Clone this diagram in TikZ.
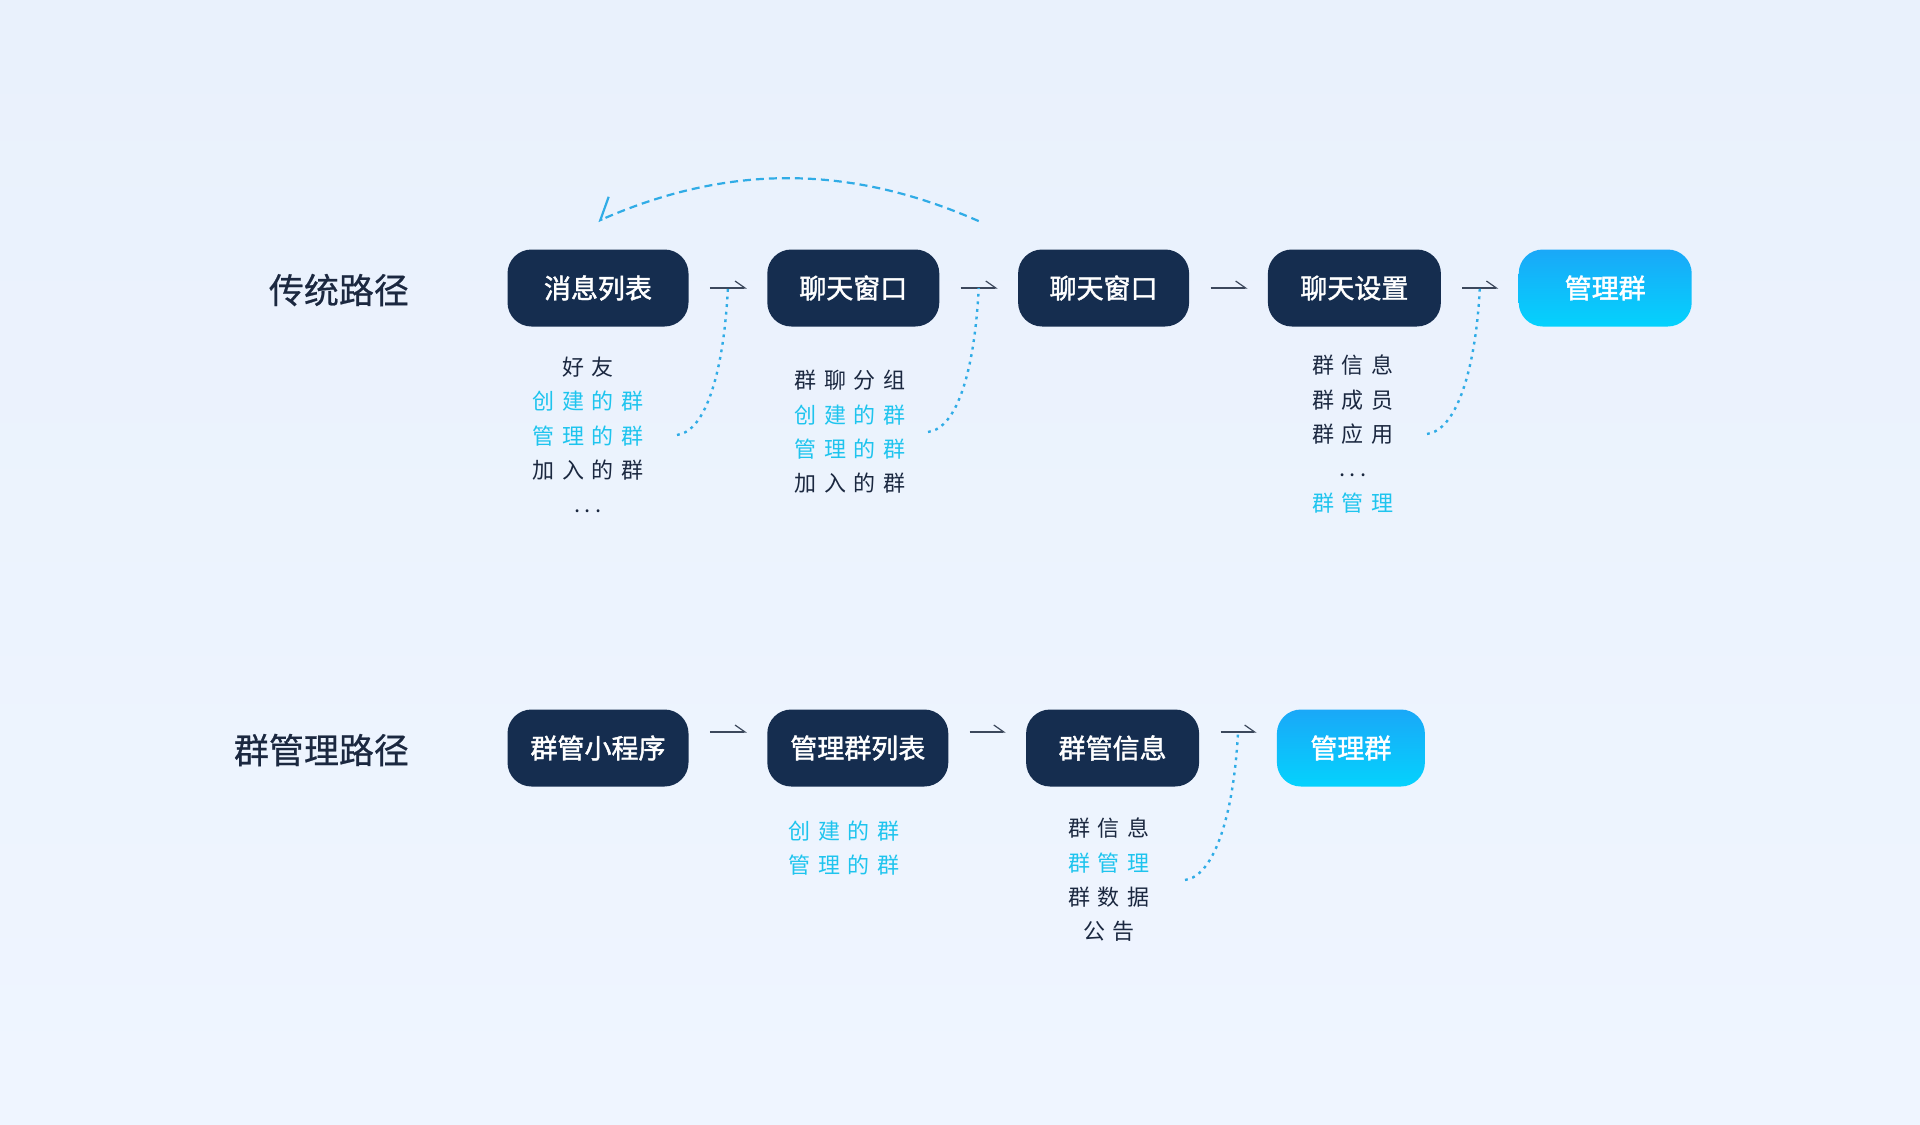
\documentclass[tikz,border=0pt]{standalone}
\usepackage{fontspec}
\setmainfont{Noto Sans CJK SC}
\newfontfamily\listfont[WordSpace=1.5]{Noto Sans CJK SC}
\newfontfamily\boxfont[FakeBold=1.6]{Noto Sans CJK SC}
\newfontfamily\labelfont[FakeBold=0.6]{Noto Sans CJK SC}
\usepackage{tikz}
\usetikzlibrary{arrows.meta,positioning}
\usepackage{xcolor}
\definecolor{gpnavy}{RGB}{21,45,79}
\definecolor{gptext}{RGB}{27,40,64}
\definecolor{gpcyan}{RGB}{30,196,238}
\definecolor{gpdash}{RGB}{48,172,230}
\definecolor{gpgrey}{RGB}{60,72,92}
\definecolor{gpbgtop}{RGB}{233,241,252}
\definecolor{gpbgbot}{RGB}{239,245,255}
\definecolor{gpskytop}{RGB}{26,168,248}
\definecolor{gpskybot}{RGB}{4,210,253}
\newcommand{\moredots}{.\kern2.2pt.\kern2.2pt.}
\tikzstyle{arrow} = [line width=0.6pt, color=gpgrey, -{Straight Barb[harpoon,length=5pt,width=7pt]}, shorten <=10.5pt, shorten >=10pt]
\tikzstyle{stepbox} = [rectangle, rounded corners=12pt, minimum width=86pt, minimum height=38.5pt, text centered, fill=gpnavy, text=white, font=\boxfont\fontsize{13.5}{16}\selectfont]
\tikzstyle{goalbox} = [stepbox, fill=none, top color=gpskytop, bottom color=gpskybot]
\tikzstyle{pathlabel} = [anchor=east, text=gptext, font=\labelfont\fontsize{17.5}{20}\selectfont]
\tikzstyle{itemlist} = [align=center, text=gptext, font=\listfont\fontsize{11}{17.2}\selectfont]
\tikzstyle{dotlink} = [color=gpdash, line width=1.2pt, dash pattern=on 1.4pt off 2.4pt]
\tikzstyle{backlink} = [color=gpdash, line width=1.1pt, dash pattern=on 4pt off 2.5pt, -{Straight Barb[harpoon,swap,length=8.5pt,width=18pt]}]

\begin{document}
\begin{tikzpicture}
% Background
\shade[top color=gpbgtop, bottom color=gpbgbot] (0,0) rectangle (960pt,-562pt);
\useasboundingbox (0,0) rectangle (960pt,-562pt);

% Traditional path
\node[pathlabel] (lab1) at (208pt,-145pt) {传统路径};
\node[stepbox, minimum width=90.5pt] (msg) at (299pt,-144pt) {消息列表};
\node[stepbox, right=39pt of msg] (chat) {聊天窗口};
\node[stepbox, right=39pt of chat, minimum width=85.5pt] (chat2) {聊天窗口};
\node[stepbox, right=39pt of chat2, minimum width=86.5pt] (set) {聊天设置};
\node[goalbox, right=38.5pt of set, minimum width=86.5pt] (goal1) {管理群};

\draw[arrow] (msg) -- coordinate (m1) (chat);
\draw[arrow] (chat) -- coordinate (m2) (chat2);
\draw[arrow] (chat2) -- coordinate (m3) (set);
\draw[arrow] (set) -- coordinate (m4) (goal1);

% Items below
\node[itemlist] (l1) at (294pt,-217.5pt) {好 友\\\textcolor{gpcyan}{创 建 的 群}\\\textcolor{gpcyan}{管 理 的 群}\\加 入 的 群\\\moredots};
\node[itemlist] (l2) at (425pt,-216pt) {群 聊 分 组\\\textcolor{gpcyan}{创 建 的 群}\\\textcolor{gpcyan}{管 理 的 群}\\加 入 的 群};
\node[itemlist] (l3) at (676.5pt,-217pt) {群 信 息\\群 成 员\\群 应 用\\\moredots\\\textcolor{gpcyan}{群 管 理}};

\draw[dotlink] ([xshift=44.5pt]l1.center) .. controls +(15pt,2pt) and +(-2pt,-40pt) .. (m1);
\draw[dotlink] ([xshift=39pt]l2.center) .. controls +(15pt,2pt) and +(-2pt,-40pt) .. (m2);
\draw[dotlink] ([xshift=37pt]l3.center) .. controls +(15pt,2pt) and +(-2pt,-40pt) .. (m4);

% Back to the list
\coordinate[yshift=14pt] (back) at (m2 |- chat.north);
\draw[backlink] (back) .. controls +(-65pt,28.5pt) and +(65pt,28.5pt) .. ([yshift=14pt]msg.north);

% Group admin path
\node[pathlabel] (lab2) at (208pt,-375pt) {群管理路径};
\node[stepbox, minimum width=90.5pt] (mini) at (299pt,-374pt) {群管小程序};
\node[stepbox, right=39pt of mini, minimum width=90.5pt] (glist) {管理群列表};
\node[stepbox, right=38.5pt of glist, minimum width=86.5pt] (ginfo) {群管信息};
\node[goalbox, right=38.5pt of ginfo, minimum width=74pt] (goal2) {管理群};

\draw[arrow] ([yshift=8pt]mini.east) -- coordinate (n1) ([yshift=8pt]glist.west);
\draw[arrow] ([yshift=8pt]glist.east) -- coordinate (n2) ([yshift=8pt]ginfo.west);
\draw[arrow] ([yshift=8pt]ginfo.east) -- coordinate (n3) ([yshift=8pt]goal2.west);

\node[itemlist] (l4) at (422pt,-424pt) {\textcolor{gpcyan}{创 建 的 群}\\\textcolor{gpcyan}{管 理 的 群}};
\node[itemlist] (l5) at (554.5pt,-440pt) {群 信 息\\\textcolor{gpcyan}{群 管 理}\\群 数 据\\公 告};

\draw[dotlink] ([xshift=38pt]l5.center) .. controls +(15pt,2pt) and +(-2pt,-40pt) .. (n3);
\end{tikzpicture}
\end{document}
